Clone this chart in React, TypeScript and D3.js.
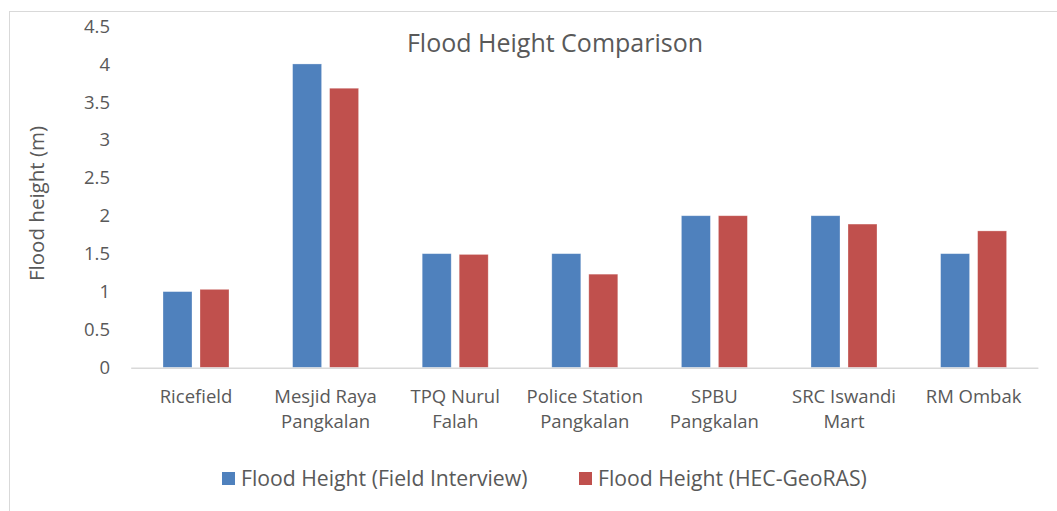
import React from "react";
import * as d3 from "d3";

const categories: string[][] = [
  ["Ricefield"],
  ["Mesjid Raya", "Pangkalan"],
  ["TPQ Nurul", "Falah"],
  ["Police Station", "Pangkalan"],
  ["SPBU", "Pangkalan"],
  ["SRC Iswandi", "Mart"],
  ["RM Ombak"],
];
const fieldInterview = [1.0, 4.0, 1.5, 1.5, 2.0, 2.0, 1.5];
const hecGeoRas = [1.03, 3.68, 1.49, 1.23, 2.0, 1.89, 1.8];
const seriesNames = ["Flood Height (Field Interview)", "Flood Height (HEC-GeoRAS)"];
const seriesColors = ["#4f81bd", "#c0504d"];
const yTicks = [0, 0.5, 1, 1.5, 2, 2.5, 3, 3.5, 4, 4.5];

const W = 1057;
const H = 511;
const FONT = "'Open Sans', sans-serif";
const TXT = "#595959";

export default function App() {
  const left = 131.2;
  const right = 1038.4;
  const top = 26;
  const bottom = 367.5;
  const x = d3.scaleBand<number>().domain(categories.map((_, i) => i)).range([left, right]).paddingInner(0).paddingOuter(0);
  const y = d3.scaleLinear().domain([0, 4.5]).range([bottom, top]);
  const step = x.bandwidth();
  const barW = 29;
  const gap = 8;
  const series = [fieldInterview, hecGeoRas];
  const legendX = [222, 579];

  return (
    <svg width={W} height={H} style={{ position: "absolute", left: 0, top: 0, background: "#fff" }}>
      <rect x={9.5} y={11.5} width={1060} height={520} fill="#fff" stroke="#d9d9d9" strokeWidth={1} />
      <text x={555} y={52.3} textAnchor="middle" fontFamily={FONT} fontSize={25} fill={TXT}>
        Flood Height Comparison
      </text>
      {yTicks.map((t) => (
        <text key={t} x={110} y={y(t)} dy="0.36em" textAnchor="end" fontFamily={FONT} fontSize={18.5} fill={TXT}>
          {t}
        </text>
      ))}
      <text
        transform={`translate(44,203.5) rotate(-90)`}
        textAnchor="middle"
        fontFamily={FONT}
        fontSize={20.5}
        fill={TXT}
      >
        Flood height (m)
      </text>
      {categories.map((_, i) =>
        series.map((s, si) => {
          const cx = (x(i) as number) + step / 2;
          const bx = si === 0 ? cx - gap / 2 - barW : cx + gap / 2;
          return (
            <rect
              key={`${i}-${si}`}
              x={bx}
              y={y(s[i])}
              width={barW}
              height={y(0) - y(s[i])}
              fill={seriesColors[si]}
              stroke="#fff"
              strokeOpacity={0.4}
              strokeWidth={0.75}
            />
          );
        })
      )}
      <line x1={left} x2={right} y1={bottom + 0.8} y2={bottom + 0.8} stroke="#d9d9d9" strokeWidth={1.6} />
      {categories.map((lines, i) => (
        <text key={i} textAnchor="middle" fontFamily={FONT} fontSize={18.5} fill={TXT}>
          {lines.map((ln, li) => (
            <tspan key={li} x={(x(i) as number) + step / 2} y={403.3 + li * 24.5}>
              {ln}
            </tspan>
          ))}
        </text>
      ))}
      {seriesNames.map((name, si) => {
        const lx = legendX[si];
        return (
          <g key={name}>
            <rect x={lx} y={472} width={13} height={13} fill={seriesColors[si]} />
            <text x={lx + 19} y={485.7} fontFamily={FONT} fontSize={21.2} fill={TXT}>
              {name}
            </text>
          </g>
        );
      })}
    </svg>
  );
}
